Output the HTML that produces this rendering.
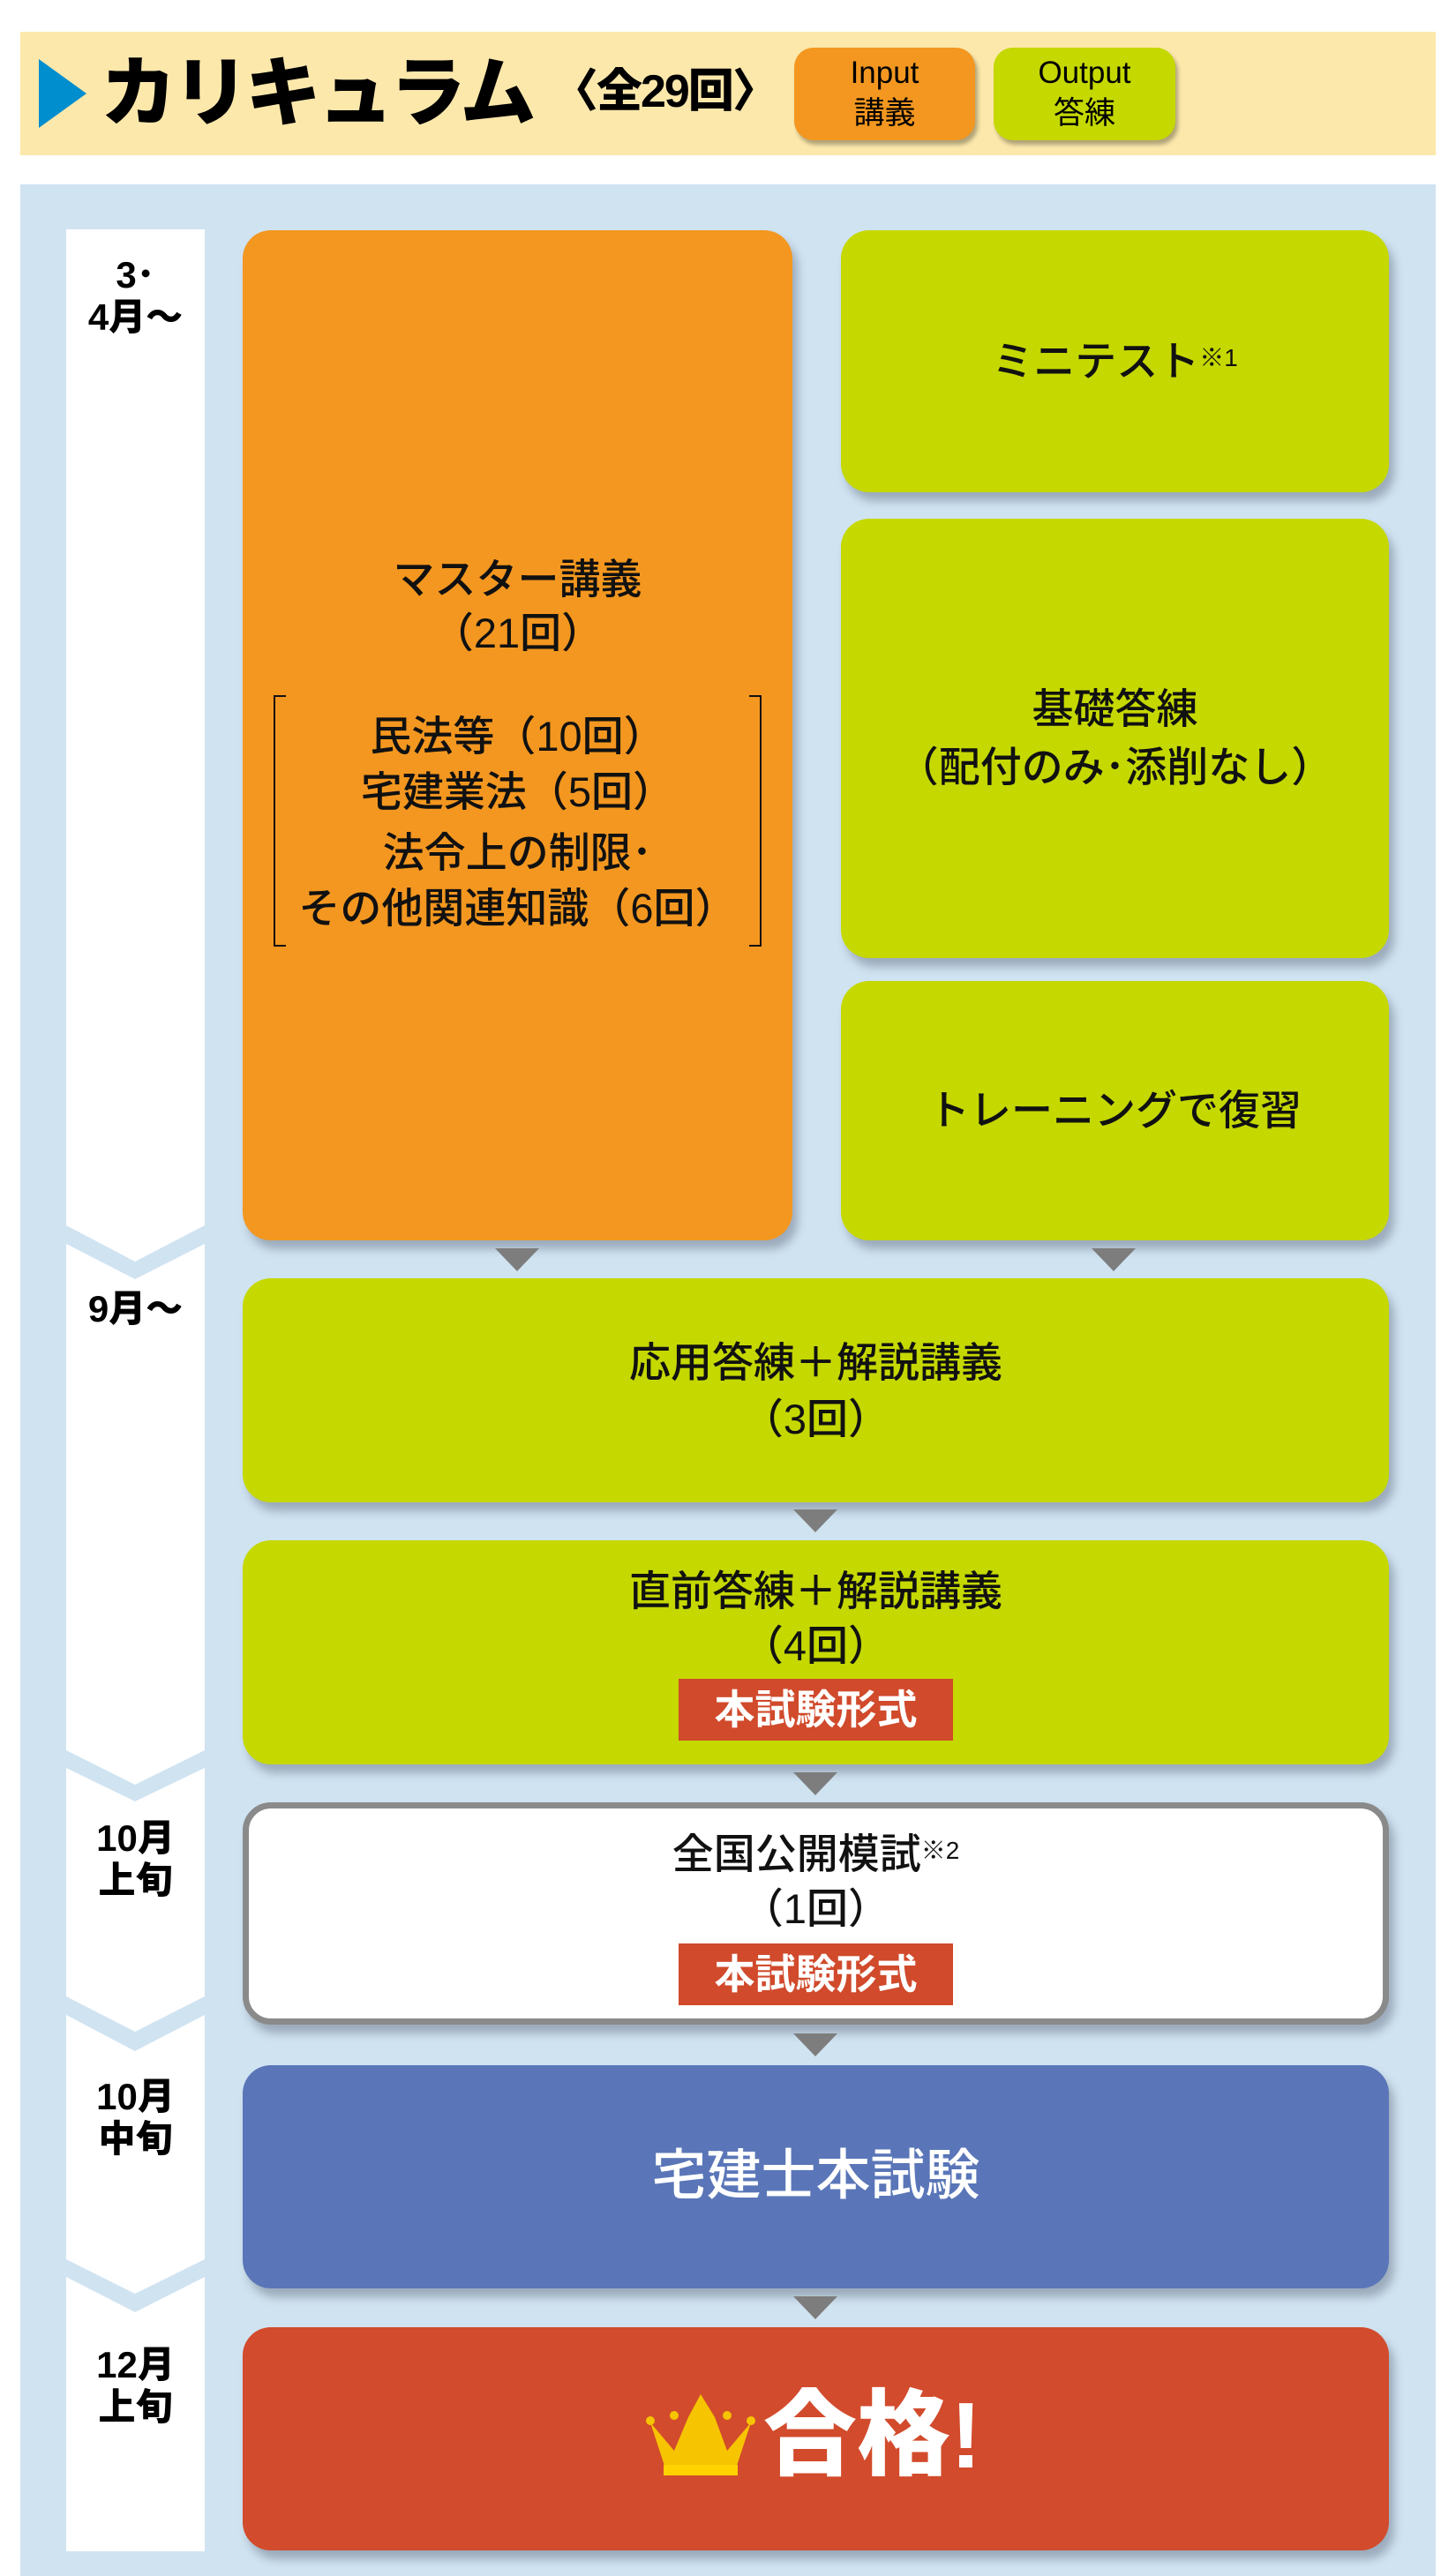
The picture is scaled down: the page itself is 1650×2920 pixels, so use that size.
<!DOCTYPE html>
<html><head><meta charset="utf-8"><style>
*{margin:0;padding:0;box-sizing:border-box}
body{width:1650px;height:2920px;position:relative;background:#fff;font-family:"Liberation Sans","Noto Sans CJK JP",sans-serif;overflow:hidden}
.a{position:absolute}
.box{position:absolute;border-radius:32px;box-shadow:6px 10px 10px rgba(60,70,90,.35);text-align:center;color:#111}
.t{position:absolute;left:0;right:0;text-align:center;font-size:47px;line-height:64px;white-space:nowrap;font-weight:500}
.arr{position:absolute;width:0;height:0;border-left:25px solid transparent;border-right:25px solid transparent;border-top:26px solid #7d7d7d}
.badge{position:absolute;background:#d04a2b;color:#fff;font-weight:bold;font-size:46px;line-height:70px;text-align:center}
.m{position:absolute;left:75px;width:157px;text-align:center;font-weight:900;font-size:42px;line-height:48px;color:#000}
sup{font-size:28px;vertical-align:top;position:relative;top:-4px}
</style></head><body>
<div class="a" style="left:23px;top:36px;width:1604px;height:140px;background:#fce8ab"></div>
<svg class="a" style="left:44px;top:67px" width="54" height="78"><polygon points="0,0 54,39 0,78" fill="#008ecf"/></svg>
<div class="a" style="left:114px;top:58px;font-size:86px;font-weight:900;line-height:96px;letter-spacing:-4px;color:#000">カリキュラム</div>
<div class="a" style="left:626px;top:72px;font-size:52px;font-weight:900;line-height:64px;color:#000;letter-spacing:-2px">〈全29回〉</div>
<div class="a" style="left:900px;top:54px;width:205px;height:105px;background:#f39720;border-radius:22px;box-shadow:3px 5px 5px rgba(0,0,0,.3);text-align:center;font-size:35px;line-height:46px;padding-top:6px">Input<br>講義</div>
<div class="a" style="left:1126px;top:54px;width:206px;height:105px;background:#c5d800;border-radius:22px;box-shadow:3px 5px 5px rgba(0,0,0,.3);text-align:center;font-size:35px;line-height:46px;padding-top:6px">Output<br>答練</div>

<div class="a" style="left:23px;top:209px;width:1604px;height:2711px;background:#d0e3f1"></div>
<div class="a" style="left:75px;top:260px;width:157px;height:2632px;background:#fff"></div>
<svg class="a" style="left:75px;top:0" width="157" height="2920">
<polygon points="0,1389 78,1430 157,1389 157,1410 78,1450 0,1410" fill="#d0e3f1"/>
<polygon points="0,1984 78,2023 157,1984 157,2004 78,2042 0,2004" fill="#d0e3f1"/>
<polygon points="0,2263 78,2303 157,2263 157,2284 78,2325 0,2284" fill="#d0e3f1"/>
<polygon points="0,2561 78,2600 157,2561 157,2581 78,2621 0,2581" fill="#d0e3f1"/>
</svg>
<div class="m" style="top:288px">3･<br>4月～</div>
<div class="m" style="top:1460px">9月～</div>
<div class="m" style="top:2060px">10月<br>上旬</div>
<div class="m" style="top:2353px">10月<br>中旬</div>
<div class="m" style="top:2657px">12月<br>上旬</div>

<div class="box" style="left:275px;top:261px;width:623px;height:1145px;background:#f39720">
<div class="t" style="top:364px">マスター講義</div>
<div class="t" style="top:425px">（21回）</div>
<div class="t" style="top:542px">民法等（10回）</div>
<div class="t" style="top:605px">宅建業法（5回）</div>
<div class="t" style="top:674px">法令上の制限･</div>
<div class="t" style="top:737px">その他関連知識（6回）</div>
<div class="a" style="left:35px;top:527px;width:14px;height:285px;border:2px solid #111;border-right:none"></div>
<div class="a" style="left:574px;top:527px;width:14px;height:285px;border:2px solid #111;border-left:none"></div>
</div>
<div class="box" style="left:953px;top:261px;width:621px;height:297px;background:#c5d800"><div class="t" style="top:117px">ミニテスト<sup>※1</sup></div></div>
<div class="box" style="left:953px;top:588px;width:621px;height:498px;background:#c5d800"><div class="t" style="top:184px">基礎答練</div><div class="t" style="top:250px">（配付のみ･添削なし）</div></div>
<div class="box" style="left:953px;top:1112px;width:621px;height:294px;background:#c5d800"><div class="t" style="top:115px">トレーニングで復習</div></div>
<div class="arr" style="left:561px;top:1415px"></div>
<div class="arr" style="left:1237px;top:1415px"></div>

<div class="box" style="left:275px;top:1449px;width:1299px;height:254px;background:#c5d800"><div class="t" style="top:64px">応用答練＋解説講義</div><div class="t" style="top:128px">（3回）</div></div>
<div class="arr" style="left:899px;top:1711px"></div>
<div class="box" style="left:275px;top:1746px;width:1299px;height:254px;background:#c5d800"><div class="t" style="top:26px">直前答練＋解説講義</div><div class="t" style="top:88px">（4回）</div><div class="badge" style="left:494px;top:157px;width:311px;height:70px">本試験形式</div></div>
<div class="arr" style="left:899px;top:2009px"></div>
<div class="box" style="left:275px;top:2043px;width:1299px;height:252px;background:#fff;border:7px solid #8a8a8a"><div class="t" style="top:20px">全国公開模試<sup>※2</sup></div><div class="t" style="top:82px">（1回）</div><div class="badge" style="left:487px;top:153px;width:311px;height:70px">本試験形式</div></div>
<div class="arr" style="left:899px;top:2305px"></div>
<div class="box" style="left:275px;top:2341px;width:1299px;height:253px;background:#5a76b8"><div class="t" style="top:86px;font-size:62px;line-height:80px;color:#fff">宅建士本試験</div></div>
<div class="arr" style="left:899px;top:2603px"></div>
<div class="box" style="left:275px;top:2638px;width:1299px;height:253px;background:#d24b2c">
<svg class="a" style="left:457px;top:76px" width="124" height="96"><polygon points="5,32 22,84 102,84 119,32 92,64 78,26 62,0 48,26 32,64" fill="#f6c400"/><rect x="20" y="80" width="84" height="12" fill="#ffd200"/><circle cx="5" cy="30" r="5" fill="#f6c400"/><circle cx="119" cy="30" r="5" fill="#f6c400"/><circle cx="32" cy="24" r="5" fill="#f6c400"/><circle cx="92" cy="24" r="5" fill="#f6c400"/></svg>
<div class="a" style="left:590px;top:58px;font-size:106px;font-weight:900;line-height:130px;color:#fff;white-space:nowrap">合格!</div>
</div>
</body></html>
